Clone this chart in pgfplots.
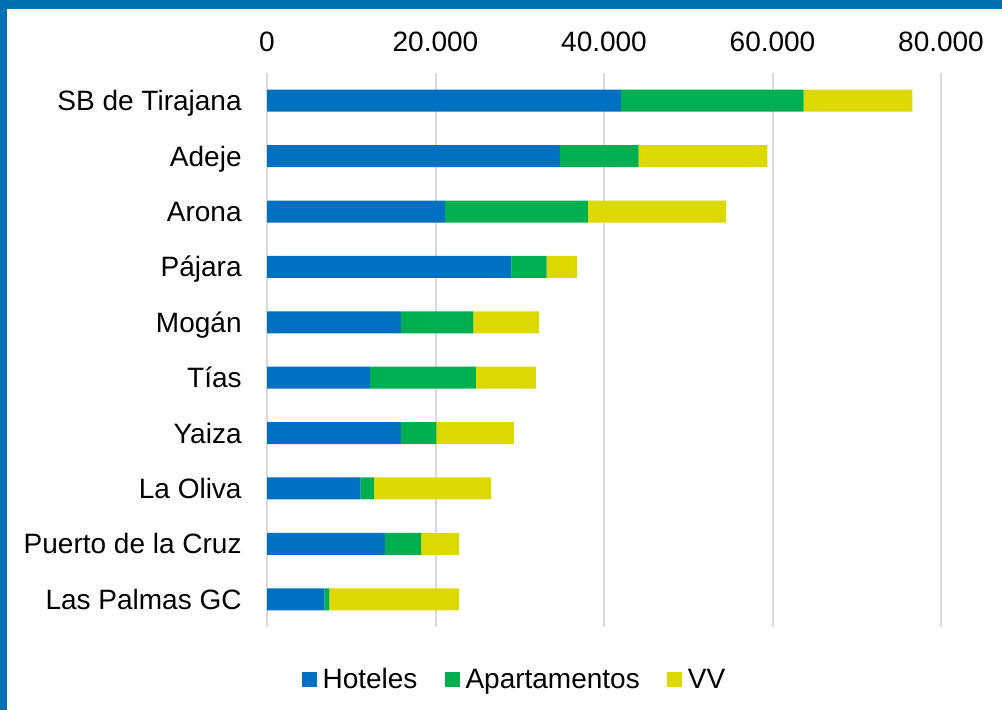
\documentclass[border=0pt]{standalone}
\usepackage{fontspec}
\setmainfont{Liberation Sans}
\usepackage{pgfplots}
\pgfplotsset{compat=1.18}
\definecolor{frameBlue}{RGB}{0,114,180}
\definecolor{cHot}{RGB}{0,112,192}
\definecolor{cApt}{RGB}{0,176,80}
\definecolor{cVV}{RGB}{221,216,0}
\definecolor{gridGray}{RGB}{217,217,217}

\begin{document}
\begin{tikzpicture}
  % frame: 1px = 0.5pt, picture 1002x710 px
  \fill[white] (0,0) rectangle (501pt,355pt);
  \fill[frameBlue] (0,350.5pt) rectangle (501pt,355pt);
  \fill[frameBlue] (0,0) rectangle (3.5pt,355pt);
  \begin{axis}[
    at={(133.5pt,41.5pt)},
    anchor=south west,
    scale only axis,
    width=337pt,
    height=277pt,
    xbar stacked,
    bar width=11pt,
    xmin=0, xmax=80000,
    xtick={0,20000,40000,60000,80000},
    scaled x ticks=false,
    xticklabel pos=upper,
    xticklabel style={inner sep=0pt, yshift=10.5pt, anchor=south},
    /pgf/number format/.cd, 1000 sep={.}, assume math mode=true,
    /pgfplots/.cd,
    ymin=-0.5, ymax=9.5,
    y dir=reverse,
    ytick={0,...,9},
    yticklabels={SB de Tirajana,Adeje,Arona,Pájara,Mogán,Tías,Yaiza,La Oliva,Puerto de la Cruz,Las Palmas GC},
    yticklabel style={anchor=base east, inner sep=0pt, xshift=-12.5pt, yshift=-5pt},
    major tick length=0pt,
    axis line style={draw=none},
    xmajorgrids=true,
    grid style={draw=gridGray, line width=1pt},
    tick label style={font=\fontsize{14}{16.8}\selectfont},
    legend style={at={(0.370,-0.0956)}, anchor=center, draw=none, fill=none,
      legend columns=-1, font=\fontsize{14}{16.8}\selectfont,
      /tikz/every even column/.append style={column sep=10.5pt},
      nodes={inner xsep=3pt, inner ysep=0pt}},
    legend image code/.code={\fill[#1] (0pt,-3.75pt) rectangle (7.5pt,3.75pt);},
  ]
    \addplot[fill=cHot, draw=none] coordinates {
      (42000,0) (34750,1) (21100,2) (29000,3) (15900,4)
      (12200,5) (15900,6) (11100,7) (14000,8) (6800,9)
    };
    \addplot[fill=cApt, draw=none] coordinates {
      (21700,0) (9350,1) (17000,2) (4200,3) (8600,4)
      (12600,5) (4200,6) (1600,7) (4300,8) (600,9)
    };
    \addplot[fill=cVV, draw=none] coordinates {
      (12900,0) (15300,1) (16400,2) (3600,3) (7800,4)
      (7100,5) (9200,6) (13900,7) (4500,8) (15400,9)
    };
    \legend{Hoteles,Apartamentos,VV}
  \end{axis}
\end{tikzpicture}
\end{document}
